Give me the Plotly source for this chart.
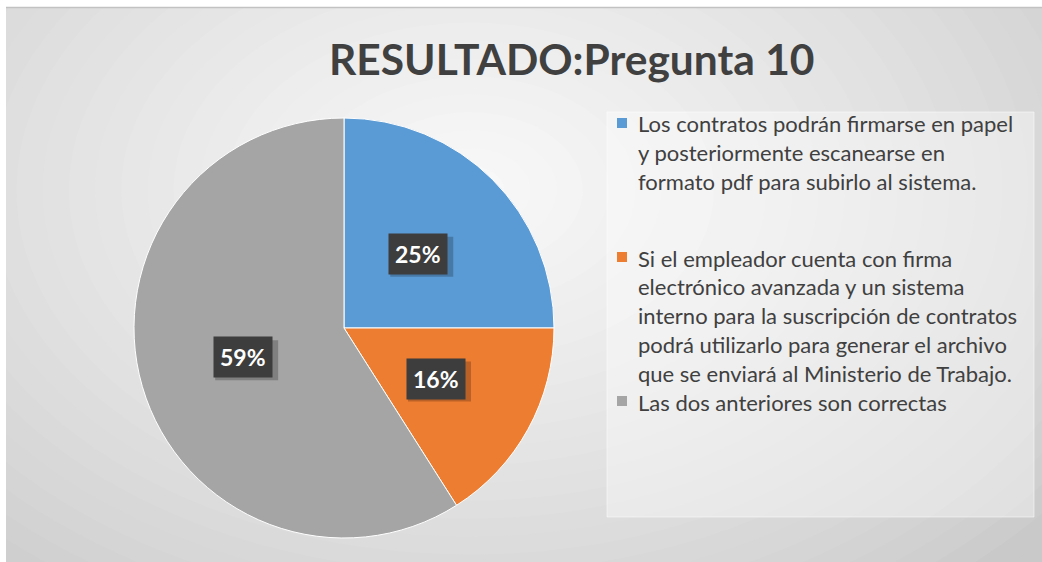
import math
import plotly.graph_objects as go

W, H = 1042, 562

# ---- data ----
categories = [
    "Los contratos podrán firmarse en papel y posteriormente escanearse en formato pdf para subirlo al sistema.",
    "Si el empleador cuenta con firma electrónico avanzada y un sistema interno para la suscripción de contratos podrá utilizarlo para generar el archivo que se enviará al Ministerio de Trabajo.",
    "Las dos anteriores son correctas",
]
legend_lines = [
    ["Los contratos podrán firmarse en papel",
     "y posteriormente escanearse en",
     "formato pdf para subirlo al sistema."],
    ["Si el empleador cuenta con firma",
     "electrónico avanzada y un sistema",
     "interno para la suscripción de contratos",
     "podrá utilizarlo para generar el archivo",
     "que se enviará al Ministerio de Trabajo."],
    ["Las dos anteriores son correctas"],
]
values = [25, 16, 59]
title_text = "RESULTADO:Pregunta 10"

colors = ["#5b9bd5", "#ed7d31", "#a5a5a5"]
TEXT = "#404040"


def px(x):
    return x / W


def py(y):
    return 1 - y / H


# pie geometry (pixels)
CX, CY, R = 344, 328, 210

fig = go.Figure()
fig.add_trace(go.Pie(
    labels=categories,
    values=values,
    sort=False,
    direction="clockwise",
    rotation=0,
    marker=dict(colors=colors, line=dict(color="white", width=1)),
    textinfo="none",
    hoverinfo="label+percent",
    showlegend=False,
    domain=dict(x=[px(CX - R), px(CX + R)], y=[py(CY + R), py(CY - R)]),
))

shapes = []
# background base
BX0, BY0 = 6, 7
shapes.append(dict(type="rect", xref="paper", yref="paper",
                   x0=px(BX0), x1=1, y0=0, y1=py(BY0),
                   fillcolor="#c9c9c9", line=dict(width=0), layer="below"))
# radial gradient approximated with concentric ellipses
GX, GY = 470, 190
steps = 30
for i in range(steps):
    t = i / (steps - 1)
    rx = 760 * (1 - t) + 8
    ry = 520 * (1 - t) + 6
    g = int(round(201 + (249 - 201) * (t ** 0.8)))
    c = f"rgb({g},{g},{g})"
    shapes.append(dict(type="circle", xref="paper", yref="paper",
                       x0=px(GX - rx), x1=px(GX + rx),
                       y0=py(GY + ry), y1=py(GY - ry),
                       fillcolor=c, line=dict(width=0), layer="below"))
# white borders (top and left)
shapes.append(dict(type="rect", xref="paper", yref="paper",
                   x0=0, x1=1, y0=py(BY0), y1=1,
                   fillcolor="white", line=dict(width=0), layer="below"))
shapes.append(dict(type="rect", xref="paper", yref="paper",
                   x0=0, x1=px(BX0), y0=0, y1=1,
                   fillcolor="white", line=dict(width=0), layer="below"))
# top edge line
shapes.append(dict(type="line", xref="paper", yref="paper",
                   x0=px(BX0), x1=1, y0=py(BY0 + 0.5), y1=py(BY0 + 0.5),
                   line=dict(color="#c2c2c2", width=1.5), layer="below"))
# legend box
shapes.append(dict(type="rect", xref="paper", yref="paper",
                   x0=px(607), x1=px(1034), y0=py(517), y1=py(112),
                   fillcolor="rgba(255,255,255,0.38)",
                   line=dict(color="rgba(255,255,255,0.5)", width=1), layer="below"))

annotations = []
# title
annotations.append(dict(text=f"<b>{title_text}</b>", xref="paper", yref="paper",
                        x=px(572), y=py(58), xanchor="center", yanchor="middle",
                        showarrow=False, font=dict(family="Lato", size=42.5, color=TEXT)))

# legend entries
entry_first = [123, 257, 401]
LS = 28.8
for k, lines in enumerate(legend_lines):
    y0 = entry_first[k]
    shapes.append(dict(type="rect", xref="paper", yref="paper",
                       x0=px(617), x1=px(627), y0=py(y0 + 5), y1=py(y0 - 5),
                       fillcolor=colors[k], line=dict(width=0)))
    for j, line in enumerate(lines):
        annotations.append(dict(text=line, xref="paper", yref="paper",
                                x=px(636), y=py(y0 + j * LS + 1),
                                xanchor="left", yanchor="middle", showarrow=False,
                                font=dict(family="Lato", size=22, color=TEXT)))

# data labels in dark boxes, placed along each slice bisector
total = sum(values)
cum = 0
for v in values:
    mid = (cum + v / 2) / total * 2 * math.pi
    cum += v
    lx = CX + 0.5 * R * math.sin(mid)
    ly = CY - 0.5 * R * math.cos(mid)
    pct = f"{round(100 * v / total)}%"
    # soft drop shadow (pixel-sized shape anchored at the label point)
    shapes.append(dict(type="rect", xref="paper", yref="paper",
                       xsizemode="pixel", ysizemode="pixel",
                       xanchor=px(lx), yanchor=py(ly),
                       x0=-28, x1=35, y0=-23, y1=17,
                       fillcolor="rgba(0,0,0,0.22)", line=dict(width=0),
                       layer="above"))
    annotations.append(dict(text=f"<b>{pct}</b>", xref="paper", yref="paper",
                            x=px(lx), y=py(ly), xanchor="center", yanchor="middle",
                            showarrow=False,
                            bgcolor="#3d3d3d", borderpad=6,
                            font=dict(family="Lato", size=23, color="white")))

fig.update_layout(
    width=W, height=H,
    margin=dict(l=0, r=0, t=0, b=0),
    paper_bgcolor="white",
    plot_bgcolor="rgba(0,0,0,0)",
    shapes=shapes,
    annotations=annotations,
    showlegend=False,
)

fig.write_html("out.html", config={"displayModeBar": False},
               post_script="document.body.style.margin='0';document.body.style.padding='0';")
